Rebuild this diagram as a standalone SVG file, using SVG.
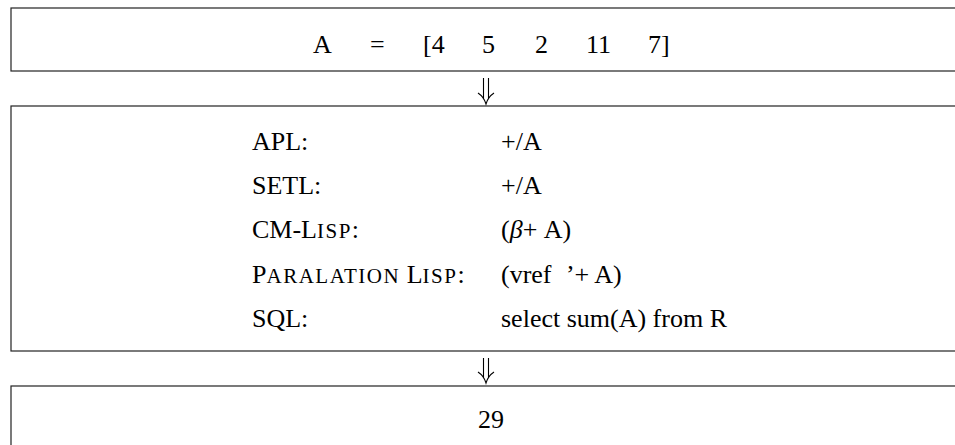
<svg xmlns="http://www.w3.org/2000/svg" width="955" height="445" viewBox="0 0 955 445">
<style>
.box{fill:#fff;stroke:#222;stroke-width:1.2}
.t{font-family:"Liberation Serif","Times New Roman",serif;font-size:26px;fill:#000}
.sc{font-size:21px;letter-spacing:1.5px}
.arr{fill:none;stroke:#000;stroke-width:1.1}
</style>
<rect width="955" height="445" fill="#fff"/>
<g id="input">
<rect class="box" x="11" y="8" width="960" height="63"/>
<text class="t" y="53"><tspan x="313">A</tspan><tspan x="370">=</tspan><tspan x="423">[4</tspan><tspan x="482">5</tspan><tspan x="535">2</tspan><tspan x="586">11</tspan><tspan x="648">7]</tspan></text>
</g>
<g id="languages">
<rect class="box" x="11" y="106" width="960" height="245"/>
<text class="t" x="252" y="150">APL:</text>
<text class="t" x="501" y="150">+/A</text>
<text class="t" x="252" y="194">SETL:</text>
<text class="t" x="501" y="194">+/A</text>
<text class="t" x="252" y="238">CM-L<tspan class="sc">ISP</tspan>:</text>
<text class="t" x="501" y="238">(<tspan font-style="italic">β</tspan>+ A)</text>
<text class="t" x="252" y="283">P<tspan class="sc">ARALATION</tspan> L<tspan class="sc">ISP</tspan>:</text>
<text class="t" x="501" y="283">(vref<tspan dx="13">’+ A)</tspan></text>
<text class="t" x="252" y="327">SQL:</text>
<text class="t" x="501" y="327">select sum(A) from R</text>
</g>
<g id="result">
<rect class="box" x="11" y="386" width="960" height="80"/>
<text class="t" x="491" y="428" text-anchor="middle">29</text>
</g>
<g id="connectors">
<path class="arr" d="M483.5 78 V99 M488.5 78 V99 M478 93 Q484 97 486 104 Q488 97 494 93"/>
<path class="arr" d="M483.5 358 V378 M488.5 358 V378 M478 372 Q484 376 486 383 Q488 376 494 372"/>
</g>
</svg>
